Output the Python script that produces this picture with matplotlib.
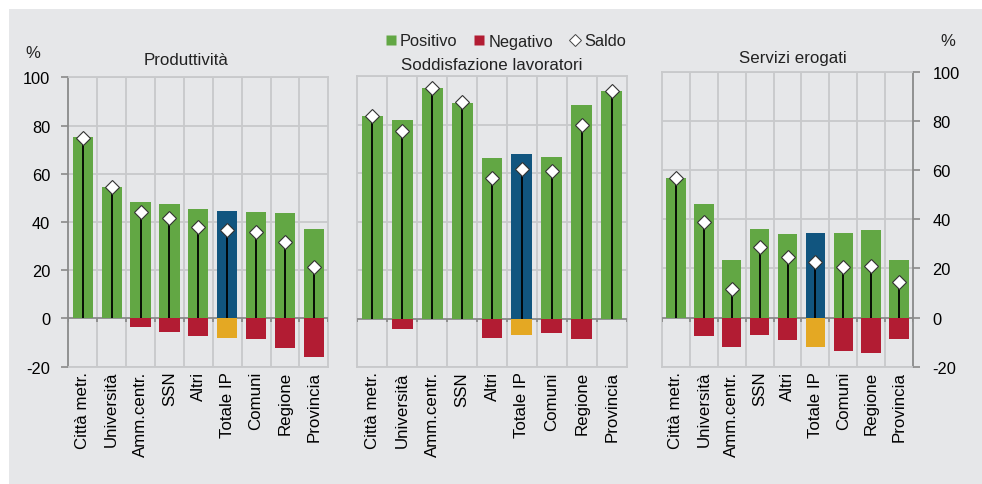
import numpy as np
import matplotlib
matplotlib.use("Agg")
import matplotlib.pyplot as plt
from matplotlib.patches import Rectangle
from matplotlib.lines import Line2D

plt.rcParams['font.family'] = ['Liberation Sans', 'DejaVu Sans']
plt.rcParams['font.size'] = 11
plt.rcParams['text.color'] = '#222222'
plt.rcParams['axes.unicode_minus'] = False

categorie = ["Città metr.", "Università", "Amm.centr.", "SSN", "Altri",
             "Totale IP", "Comuni", "Regione", "Provincia"]

# Produttività
prod_pos = [75.1, 54.4, 48.1, 47.3, 45.2, 44.7, 44.2, 43.8, 37.2]
prod_neg = [0, 0, -3.7, -5.7, -7.2, -8.0, -8.6, -12.2, -15.9]
prod_saldo = [74.8, 54.4, 44.3, 41.5, 38.0, 36.8, 35.8, 31.7, 21.4]

# Soddisfazione lavoratori
sodd_pos = [83.4, 81.9, 95.1, 88.9, 66.1, 67.8, 66.7, 88.2, 93.8]
sodd_neg = [0, -4.5, 0, 0, -8.2, -6.7, -6.1, -8.5, 0]
sodd_saldo = [83.5, 77.5, 95.2, 89.1, 58.1, 61.5, 60.8, 79.9, 93.9]

# Servizi erogati
serv_pos = [57.0, 46.1, 23.3, 36.0, 34.2, 34.3, 34.3, 35.5, 23.3]
serv_neg = [0, -7.3, -11.8, -6.9, -9.2, -12.0, -13.6, -14.4, -8.8]
serv_saldo = [57.0, 38.9, 11.5, 28.9, 24.8, 22.6, 20.7, 21.0, 14.3]

verde = '#62a744'
rosso = '#b21c33'
blu = '#11557f'
giallo = '#e4a823'
sfondo = '#e6e7e9'
griglia = '#c8c9cb'
assi = '#8a8a8a'

W, H = 982, 485
fig = plt.figure(figsize=(W / 100, H / 100), dpi=100)
fig.patch.set_facecolor('white')
fig.patches.append(Rectangle((9 / W, 0), 1, 1 - 10 / H, transform=fig.transFigure,
                             facecolor=sfondo, edgecolor='none', zorder=-10))


def box(x0, x1, ytop, ybot):
    return [x0 / W, 1 - ybot / H, (x1 - x0) / W, (ybot - ytop) / H]


def pannello(ax, pos, neg, saldo, lato):
    x = np.arange(len(categorie))
    ax.set_facecolor('none')
    ax.set_xlim(-0.5, len(categorie) - 0.5)
    ax.set_ylim(-20, 100)
    col_pos = [blu if c == "Totale IP" else verde for c in categorie]
    col_neg = [giallo if c == "Totale IP" else rosso for c in categorie]
    ax.bar(x, pos, width=0.7, color=col_pos, edgecolor='none', zorder=3)
    ax.bar(x, neg, width=0.7, color=col_neg, edgecolor='none', zorder=3)
    ax.vlines(x, 0, saldo, color='black', lw=1.3, zorder=4)
    ax.plot(x, saldo, ls='none', marker='D', ms=7, mfc='white', mec='#333333',
            mew=0.8, zorder=5)

    # griglia
    for b in np.arange(0.5, len(categorie) - 0.5):
        ax.axvline(b, color=griglia, lw=1.3, zorder=1)
    for v in range(-20, 101, 20):
        if v != 0:
            ax.axhline(v, color=griglia, lw=1.3, zorder=1)
    ax.axhline(0, color=assi, lw=1.3, zorder=2)
    ax.vlines(np.arange(-0.5, len(categorie)), -1.6, 0, color=assi, lw=1.3, zorder=2)

    for s in ['top', 'bottom', 'left', 'right']:
        ax.spines[s].set_color(griglia)
        ax.spines[s].set_linewidth(1.3)
        ax.spines[s].set_zorder(1)

    ax.set_xticks(x)
    ax.set_xticklabels(categorie, rotation=90, fontsize=12.2)
    ax.tick_params(axis='x', length=0, pad=3)
    ax.set_yticks(range(-20, 101, 20))
    if lato == 'left':
        ax.spines['left'].set_color(assi)
        ax.tick_params(axis='y', left=True, right=False, labelleft=True,
                       labelright=False, length=5, width=1.2, color=assi,
                       pad=8, labelsize=11.8)
    elif lato == 'right':
        ax.spines['right'].set_color(assi)
        ax.tick_params(axis='y', left=False, right=True, labelleft=False,
                       labelright=True, length=5, width=1.2, color=assi,
                       pad=9, labelsize=11.8)
    else:
        ax.tick_params(axis='y', left=False, labelleft=False)


ax1 = fig.add_axes(box(68.3, 328.3, 78.3, 367.7))
ax2 = fig.add_axes(box(357.3, 626.7, 77, 368))
ax3 = fig.add_axes(box(662, 913, 73, 367.7))

pannello(ax1, prod_pos, prod_neg, prod_saldo, 'left')
pannello(ax2, sodd_pos, sodd_neg, sodd_saldo, 'none')
pannello(ax3, serv_pos, serv_neg, serv_saldo, 'right')

fig.text(186 / W, 1 - 60.5 / H, "Produttività", ha='center', va='center', fontsize=12.2)
fig.text(492 / W, 1 - 66 / H, "Soddisfazione lavoratori", ha='center', va='center', fontsize=12.2)
fig.text(792.5 / W, 1 - 58 / H, "Servizi erogati", ha='center', va='center', fontsize=12.2)
fig.text(33 / W, 1 - 53 / H, "%", ha='center', va='center', fontsize=12)
fig.text(948 / W, 1 - 42 / H, "%", ha='center', va='center', fontsize=12)

handles = [
    Line2D([], [], ls='none', marker='s', ms=7, mfc=verde, mec='none'),
    Line2D([], [], ls='none', marker='s', ms=7, mfc=rosso, mec='none'),
    Line2D([], [], ls='none', marker='D', ms=6, mfc='white', mec='#444444', mew=0.7),
]
fig.legend(handles, ["Positivo", "Negativo", "Saldo"], loc='center',
           bbox_to_anchor=(505 / W, 1 - 42 / H), ncol=3, frameon=False,
           handlelength=0.8, handletextpad=0.15, columnspacing=0.95,
           fontsize=11.8, borderaxespad=0, borderpad=0)

fig.savefig("out.png", dpi=100, facecolor=fig.get_facecolor())
